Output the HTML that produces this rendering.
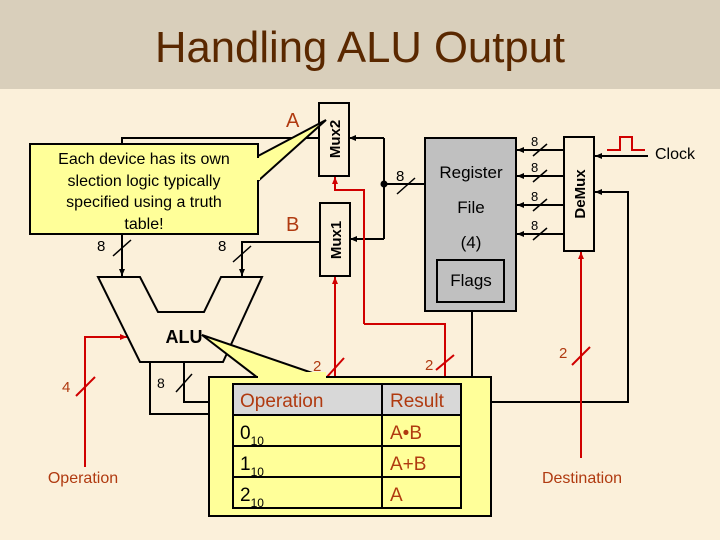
<!DOCTYPE html>
<html><head><meta charset="utf-8"><style>
html,body{margin:0;padding:0;width:720px;height:540px;overflow:hidden;background:#fbf0da}
svg{display:block}
text{font-family:"Liberation Sans",Arial,sans-serif}
</style></head><body>
<svg width="720" height="540" viewBox="0 0 720 540" xmlns="http://www.w3.org/2000/svg">
<defs>
<marker id="ab" markerWidth="8" markerHeight="8" refX="7" refY="4" orient="auto" markerUnits="userSpaceOnUse"><path d="M0,1 L7,4 L0,7 z" fill="#000"/></marker>
<marker id="ar" markerWidth="8" markerHeight="8" refX="7" refY="4" orient="auto" markerUnits="userSpaceOnUse"><path d="M0,1 L7,4 L0,7 z" fill="#d00000"/></marker>
</defs>
<rect x="0" y="0" width="720" height="89" fill="#d9cfbb"/>
<rect x="0" y="89" width="720" height="451" fill="#fbf0da"/>
<text x="360" y="62" font-size="44" fill="#5a2800" text-anchor="middle" textLength="410" lengthAdjust="spacingAndGlyphs">Handling ALU Output</text>

<g stroke="#000" stroke-width="2" fill="none">
<polyline points="319,138 122,138 122,276" marker-end="url(#ab)"/>
<polyline points="320,242 242,242 242,276" marker-end="url(#ab)"/>
<polyline points="425,184 384,184"/>
<polyline points="384,138 349,138" marker-end="url(#ab)"/>
<polyline points="384,138 384,239"/>
<polyline points="384,239 350,239" marker-end="url(#ab)"/>
<line x1="564" y1="150" x2="517" y2="150" marker-end="url(#ab)"/>
<line x1="564" y1="176" x2="517" y2="176" marker-end="url(#ab)"/>
<line x1="564" y1="205" x2="517" y2="205" marker-end="url(#ab)"/>
<line x1="564" y1="234" x2="517" y2="234" marker-end="url(#ab)"/>
<line x1="648" y1="156" x2="595" y2="156" marker-end="url(#ab)"/>
<polyline points="491,402 628,402 628,192 595,192" marker-end="url(#ab)"/>
<line x1="472" y1="378" x2="472" y2="303" marker-end="url(#ab)"/>
<polyline points="150,362 150,414 209,414"/>
<polyline points="184,362 184,402 209,402"/>
</g>
<circle cx="384" cy="184" r="3.5" fill="#000"/>
<g stroke="#000" stroke-width="1.5">
<line x1="113" y1="256" x2="131" y2="240"/>
<line x1="233" y1="262" x2="251" y2="246"/>
<line x1="397" y1="194" x2="415" y2="178"/>
<line x1="533" y1="156" x2="547" y2="144"/>
<line x1="533" y1="182" x2="547" y2="170"/>
<line x1="533" y1="211" x2="547" y2="199"/>
<line x1="533" y1="240" x2="547" y2="228"/>
<line x1="176" y1="392" x2="192" y2="374"/>
</g>
<g font-size="15" fill="#000">
<text x="97" y="251">8</text>
<text x="218" y="251">8</text>
<text x="396" y="181">8</text>
<text x="531" y="146" font-size="13">8</text>
<text x="531" y="172" font-size="13">8</text>
<text x="531" y="201" font-size="13">8</text>
<text x="531" y="230" font-size="13">8</text>
<text x="157" y="388" font-size="14">8</text>
</g>

<g stroke="#d00000" stroke-width="2" fill="none">
<polyline points="364,324 364,190 335,190 335,177" marker-end="url(#ar)"/>
<polyline points="364,324 445,324 445,378"/>
<line x1="335" y1="378" x2="335" y2="277" marker-end="url(#ar)"/>
<line x1="581" y1="458" x2="581" y2="252" marker-end="url(#ar)"/>
<polyline points="85,467 85,337 127,337" marker-end="url(#ar)"/>
<polyline points="607,150 620,150 620,137 632,137 632,150 645,150"/>
<line x1="326" y1="378" x2="344" y2="358"/>
<line x1="436" y1="370" x2="454" y2="355"/>
<line x1="572" y1="365" x2="590" y2="347"/>
<line x1="76" y1="396" x2="95" y2="377"/>
</g>
<g fill="#b03a10" font-size="15">
<text x="313" y="371">2</text>
<text x="425" y="370">2</text>
<text x="559" y="358">2</text>
<text x="62" y="392">4</text>
<text x="83" y="483" text-anchor="middle" font-size="16">Operation</text>
<text x="582" y="483" text-anchor="middle" font-size="16">Destination</text>
<text x="286" y="127" font-size="20">A</text>
<text x="286" y="231" font-size="20">B</text>
</g>

<g stroke="#000" stroke-width="2" fill="#fbf0da">
<rect x="319" y="103" width="30" height="73"/>
<rect x="320" y="203" width="30" height="73"/>
<rect x="564" y="137" width="30" height="114"/>
</g>
<g font-size="15" font-weight="bold" fill="#000" text-anchor="middle">
<text transform="translate(340,139) rotate(-90)">Mux2</text>
<text transform="translate(341,240) rotate(-90)">Mux1</text>
<text transform="translate(585,194) rotate(-90)">DeMux</text>
</g>
<text x="655" y="159" font-size="16">Clock</text>

<rect x="425" y="138" width="91" height="173" fill="#c0c0c0" stroke="#000" stroke-width="2"/>
<rect x="437" y="260" width="67" height="42" fill="#c0c0c0" stroke="#000" stroke-width="2"/>
<g font-size="17" text-anchor="middle" fill="#000">
<text x="471" y="178">Register</text>
<text x="471" y="213">File</text>
<text x="471" y="248">(4)</text>
<text x="471" y="286">Flags</text>
</g>

<polygon points="98,277 140,277 158,312 204,312 221,277 262,277 223,362 140,362" fill="#fbf0da" stroke="#000" stroke-width="2"/>
<text x="184" y="343" font-size="18" font-weight="bold" text-anchor="middle">ALU</text>

<polygon points="258,156 326,120 258,181" fill="#ffff99" stroke="#000" stroke-width="2"/>
<rect x="30" y="144" width="228" height="90" fill="#ffff99" stroke="#000" stroke-width="2"/>
<rect x="252" y="158" width="8" height="22" fill="#ffff99"/>
<g font-size="16" text-anchor="middle" fill="#000">
<text x="144" y="164">Each device has its own</text>
<text x="144" y="186">slection logic typically</text>
<text x="144" y="207">specified using a truth</text>
<text x="144" y="229">table!</text>
</g>

<polygon points="258,378 202,335 327,378" fill="#ffff99" stroke="#000" stroke-width="2"/>
<rect x="209" y="377" width="282" height="139" fill="#ffff99" stroke="#000" stroke-width="2"/>
<rect x="258" y="372" width="68" height="8" fill="#ffff99"/>
<rect x="233" y="384" width="228" height="31" fill="#d8d8d8"/>
<g stroke="#000" stroke-width="2" fill="none">
<rect x="233" y="384" width="228" height="124"/>
<line x1="233" y1="415" x2="461" y2="415"/>
<line x1="233" y1="446" x2="461" y2="446"/>
<line x1="233" y1="477" x2="461" y2="477"/>
<line x1="382" y1="384" x2="382" y2="508"/>
</g>
<g font-size="19" fill="#b03a10">
<text x="240" y="407">Operation</text>
<text x="390" y="407">Result</text>
<text x="390" y="439">A•B</text>
<text x="390" y="470">A+B</text>
<text x="390" y="501">A</text>
</g>
<g font-size="19" fill="#000">
<text x="240" y="439">0<tspan font-size="12" dy="6">10</tspan></text>
<text x="240" y="470">1<tspan font-size="12" dy="6">10</tspan></text>
<text x="240" y="501">2<tspan font-size="12" dy="6">10</tspan></text>
</g>
</svg>
</body></html>
